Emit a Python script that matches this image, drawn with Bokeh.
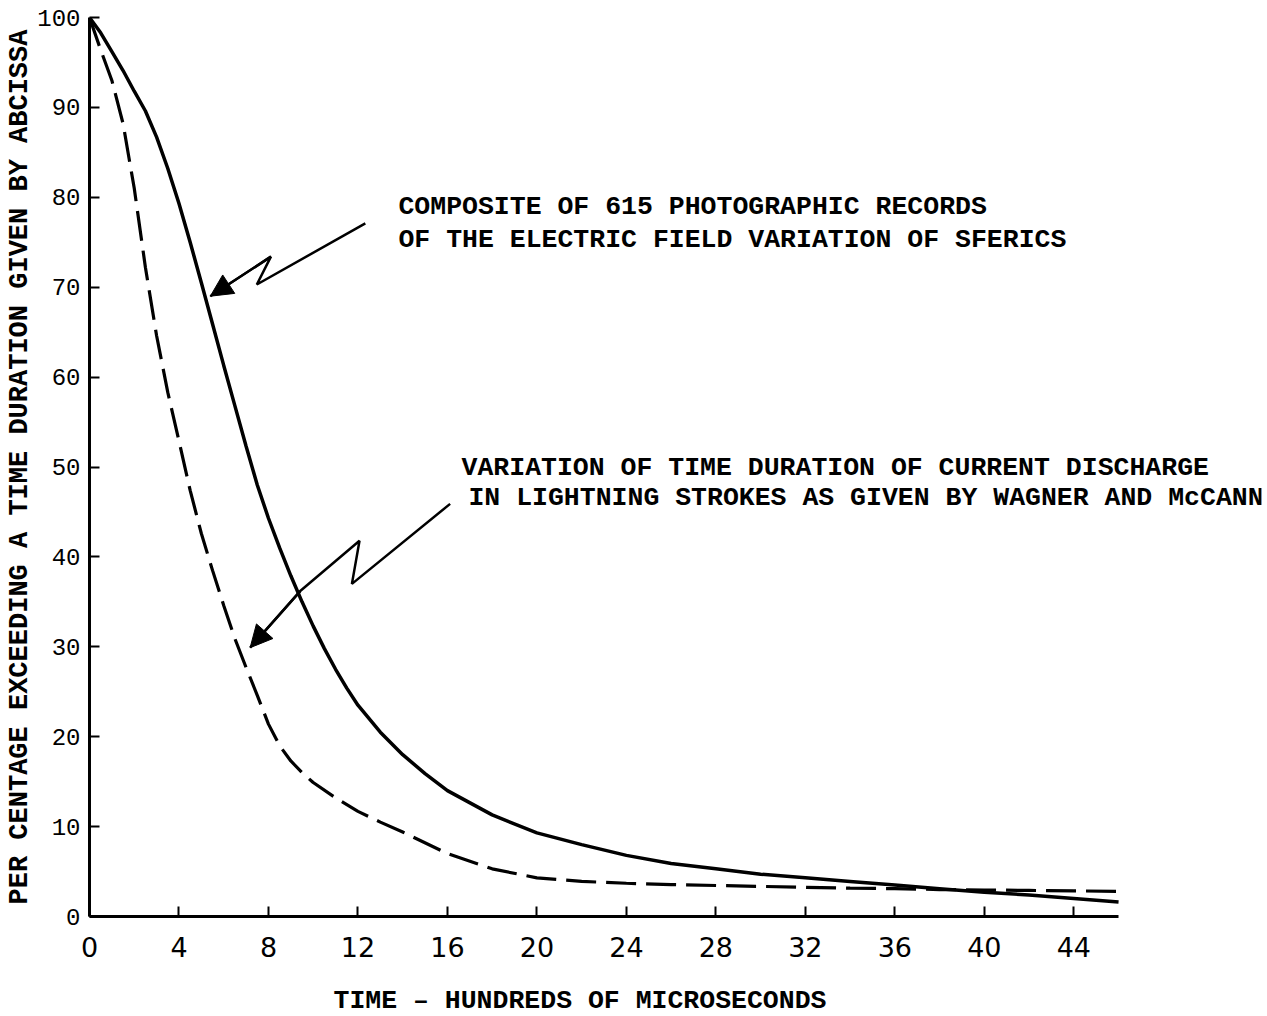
from bokeh.plotting import figure
from bokeh.models import Label, Arrow, NormalHead, FixedTicker, Range1d, Title
from bokeh.embed import file_html
from bokeh.resources import INLINE

# ---- data ----
sferics_x = [0, 0.5, 1, 1.5, 2, 2.5, 3, 3.5, 4, 4.5, 5, 5.5, 6, 6.5, 7, 7.5, 8, 8.5, 9, 9.5, 10,
             10.5, 11, 11.5, 12, 13, 14, 15, 16, 18, 20, 22, 24, 26, 28, 30, 32, 34, 36, 38, 40,
             42, 44, 46]
sferics_y = [100, 98.3, 96.2, 94.1, 91.8, 89.6, 86.7, 83.2, 79.3, 75.0, 70.5, 65.9, 61.3, 56.8,
             52.3, 48.0, 44.3, 41.0, 37.9, 35.0, 32.3, 29.8, 27.5, 25.4, 23.5, 20.5, 18.0, 15.9,
             14.0, 11.3, 9.3, 8.0, 6.8, 5.9, 5.3, 4.7, 4.3, 3.9, 3.5, 3.1, 2.7, 2.4, 2.0, 1.6]

lightning_x = [0, 0.5, 1, 1.5, 2, 2.5, 3, 3.5, 4, 4.5, 5, 5.5, 6, 6.5, 7, 7.5, 8, 8.5, 9, 9.5,
               10, 11, 12, 13, 14, 16, 18, 20, 22, 24, 26, 28, 30, 32, 34, 36, 38, 40, 42, 44, 46]
lightning_y = [100, 96.4, 93.0, 88.2, 81.0, 72.2, 64.6, 58.3, 52.9, 47.4, 42.6, 38.5, 34.6, 30.9,
               27.7, 24.6, 21.4, 19.0, 17.3, 16.0, 14.9, 13.2, 11.7, 10.5, 9.4, 7.0, 5.3, 4.3,
               3.9, 3.7, 3.55, 3.45, 3.35, 3.25, 3.15, 3.1, 3.0, 2.95, 2.9, 2.85, 2.8]

x_ticks = [0, 4, 8, 12, 16, 20, 24, 28, 32, 36, 40, 44]
y_ticks = [0, 10, 20, 30, 40, 50, 60, 70, 80, 90, 100]

ann1_lines = ["COMPOSITE OF 615 PHOTOGRAPHIC RECORDS",
              "OF THE ELECTRIC FIELD VARIATION OF SFERICS"]
ann2_lines = ["VARIATION OF TIME DURATION OF CURRENT DISCHARGE",
              "IN LIGHTNING STROKES AS GIVEN BY WAGNER AND McCANN"]
x_title = "TIME \u2013 HUNDREDS OF MICROSECONDS"
y_title = "PER CENTAGE EXCEEDING A TIME DURATION GIVEN BY ABCISSA"

# annotation pointer paths (data coordinates)
arrow1_x = [12.33, 7.48, 8.11, 5.40]
arrow1_y = [77.1, 70.3, 73.4, 69.0]
arrow2_x = [16.12, 11.73, 12.07, 9.42, 7.18]
arrow2_y = [45.9, 37.0, 41.8, 36.2, 29.9]

MONO = "Liberation Mono"

p = figure(width=1265, height=1016, output_backend="svg", toolbar_location=None,
           x_range=Range1d(0, 52.39), y_range=Range1d(0, 100),
           min_border_left=89, min_border_right=4, min_border_top=17, min_border_bottom=100,
           background_fill_color="white", border_fill_color="white")
p.outline_line_color = None
p.grid.visible = False

p.line(sferics_x, sferics_y, line_color="black", line_width=3.5)
p.line(lightning_x, lightning_y, line_color="black", line_width=3.2, line_dash="30 10")

# pointers
p.line(arrow1_x, arrow1_y, line_color="black", line_width=2.5)
p.line(arrow2_x, arrow2_y, line_color="black", line_width=2.5)
for ax_, ay_ in ((arrow1_x, arrow1_y), (arrow2_x, arrow2_y)):
    p.add_layout(Arrow(end=NormalHead(size=22, fill_color="black", line_color="black"),
                       x_start=ax_[-2], y_start=ay_[-2], x_end=ax_[-1], y_end=ay_[-1],
                       line_color="black", line_width=2.5))

# annotation texts
for (tx, ty, t) in [(13.81, 78.9, ann1_lines[0]), (13.81, 75.3, ann1_lines[1]),
                    (16.63, 49.9, ann2_lines[0]), (16.94, 46.6, ann2_lines[1])]:
    p.add_layout(Label(x=tx, y=ty, text=t, text_font=MONO, text_font_size="26.5px",
                       text_font_style="bold", text_baseline="middle", text_align="left",
                       text_color="black"))

# axis titles (a small blank panel pushes the x title down to its place)
p.add_layout(Title(text=" ", text_font_size="4px", standoff=17), "below")
p.add_layout(Title(text=x_title, align="left", offset=244, standoff=0, text_font=MONO,
                   text_font_size="26.5px", text_font_style="bold", text_color="black"), "below")
p.add_layout(Title(text=y_title, align="center", standoff=0, text_font=MONO,
                   text_font_size="27px", text_font_style="bold", text_color="black"), "left")

# axes
for ax in (p.xaxis[0], p.yaxis[0]):
    ax.axis_line_color = "black"
    ax.axis_line_width = 3
    ax.major_tick_line_color = "black"
    ax.major_tick_line_width = 2
    ax.major_tick_in = 10
    ax.major_tick_out = 0
    ax.minor_tick_line_color = None
    ax.major_label_text_color = "black"

p.xaxis[0].bounds = (0, 46)
p.xaxis[0].ticker = FixedTicker(ticks=x_ticks)
p.xaxis[0].major_label_text_font = "DejaVu Sans"
p.xaxis[0].major_label_text_font_size = "27px"
p.xaxis[0].major_label_standoff = 20

p.yaxis[0].ticker = FixedTicker(ticks=y_ticks)
p.yaxis[0].major_label_text_font = MONO
p.yaxis[0].major_label_text_font_size = "24px"
p.yaxis[0].major_label_standoff = 9

open("out.html", "w").write(file_html(p, INLINE))
